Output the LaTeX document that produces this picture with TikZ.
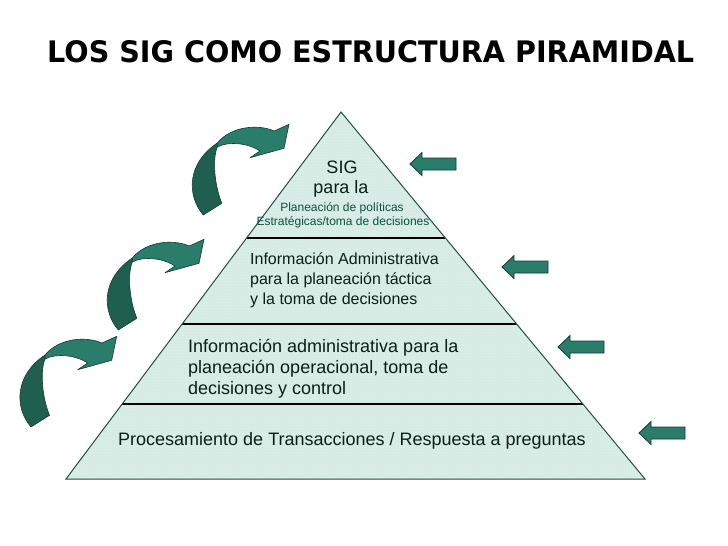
\documentclass[tikz,border=0pt]{standalone}
\usepackage{fontspec}
\setmainfont{Liberation Sans}
\newfontfamily\titlefont{DejaVu Sans}
\usetikzlibrary{patterns,calc}
\definecolor{pyrfill}{RGB}{214,235,228}
\definecolor{pyredge}{RGB}{30,80,68}
\definecolor{arrfill}{RGB}{42,125,107}
\definecolor{arrdark}{RGB}{30,95,80}
\definecolor{arredge}{RGB}{22,58,50}
\definecolor{txt}{RGB}{8,32,26}
\definecolor{smalltxt}{RGB}{12,80,64}
\tikzset{
  sarrow/.style={fill=arrfill,draw=arredge,line width=0.8pt,line join=miter},
  carrow/.style={draw=arredge,line width=0.6pt,line join=round},
  lbl/.style={inner sep=0pt,anchor=base west,text=txt},
  big/.style={font=\fontsize{18}{20}\selectfont},
  mid/.style={font=\fontsize{16}{18}\selectfont},
  small/.style={font=\fontsize{12}{14}\selectfont,text=smalltxt},
  sarr/.pic={\filldraw[sarrow] (0,0) -- (12,-11.5) -- (12,-6) -- (46,-6) -- (46,6) -- (12,6) -- (12,11.5) -- cycle;},
  curvarrow/.pic={
    \filldraw[carrow,fill=arrdark] (0,0) .. controls (-17,-20) and (-16,-52) .. (14,-72)
       -- (14,-68) .. controls (9,-56) and (11,-30) .. (18.5,-11.7) -- cycle;
    \filldraw[carrow,fill=arrfill] (14,-72) .. controls (28,-89) and (55,-91) .. (71,-84)
       -- (85.7,-90.7) -- (80.7,-66.7) -- (46.7,-57.3) -- (56.7,-64)
       .. controls (45,-72) and (25,-74) .. (14,-68) -- cycle;
  }
}
\begin{document}
\begin{tikzpicture}[x=1pt,y=-1pt]
\useasboundingbox (0,0) rectangle (728,546);
\fill[white] (0,0) rectangle (728,546);

% title
\node[inner sep=0pt,anchor=base west] (title) at (47,62)
  {\resizebox{647pt}{22pt}{\titlefont\bfseries LOS SIG COMO ESTRUCTURA PIRAMIDAL}};

% pyramid
\coordinate (apex) at (341,112);
\coordinate (bl) at (66,479);
\coordinate (br) at (645,479);
\fill[pyrfill] (apex) -- (br) -- (bl) -- cycle;
\fill[pattern=dots,pattern color=white!70!pyrfill] (apex) -- (br) -- (bl) -- cycle;
\foreach \t in {0.3433,0.5777,0.7956}
  \draw[black,line width=1.1pt] ($(apex)!\t!(bl)$) -- ($(apex)!\t!(br)$);
\draw[pyredge,line width=1pt,line join=miter] (apex) -- (br) -- (bl) -- cycle;

% level 1
\node[lbl,big,anchor=base] (sig) at (342,173) {SIG};
\node[lbl,big,anchor=base] (parala) at (341,193) {para la};
\node[lbl,small,anchor=base] (plan) at (342,211) {Planeación de políticas};
\node[lbl,small,anchor=base] (estr) at (343,225) {Estratégicas/toma de decisiones};

% level 2
\node[lbl,mid] (l2a) at (250,264) {Información Administrativa};
\node[lbl,mid] (l2b) at (250,284) {para la planeación táctica};
\node[lbl,mid] (l2c) at (250,304) {y la toma de decisiones};

% level 3
\node[lbl,big] (l3a) at (188,352) {Información administrativa para la};
\node[lbl,big] (l3b) at (188,373) {planeación operacional, toma de};
\node[lbl,big] (l3c) at (188,394) {decisiones y control};

% level 4
\node[lbl,big] (l4) at (118,445) {Procesamiento de Transacciones / Respuesta a preguntas};

% straight arrows
\pic at (410,164) {sarr};
\pic at (502,267) {sarr};
\pic at (558,347) {sarr};
\pic at (639,433) {sarr};

% curved arrows
\pic at (203.3,215) {curvarrow};
\pic at (118.3,330) {curvarrow};
\pic at (31,427) {curvarrow};
\end{tikzpicture}
\end{document}
